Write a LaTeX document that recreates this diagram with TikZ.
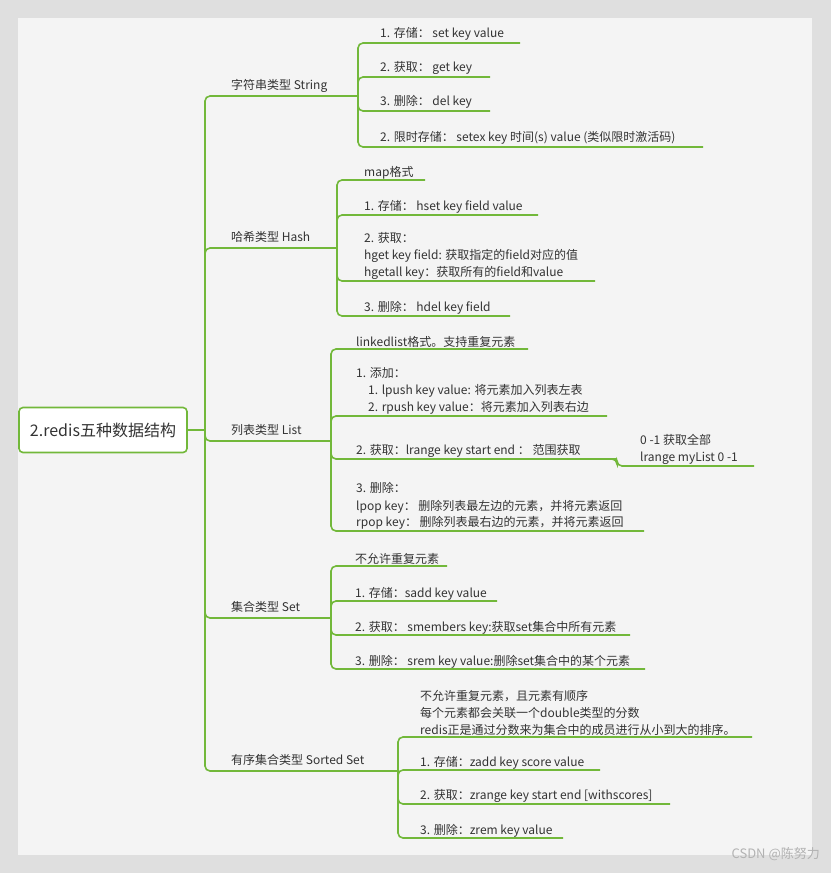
\documentclass[tikz,border=0pt]{standalone}
\usepackage{fontspec}
\setmainfont{Noto Sans CJK SC}
\definecolor{gr}{HTML}{72B83A}
\definecolor{bgc}{HTML}{F4F4F4}
\definecolor{txt}{HTML}{333333}
\begin{document}
\begin{tikzpicture}[x=1pt,y=-1pt,
  br/.style={draw=gr,line width=1.6pt,rounded corners=5pt},
  lbl/.style={anchor=base west,inner sep=0pt,font=\fontsize{12}{17}\selectfont,text=txt,align=left}]
\useasboundingbox (0,0) rectangle (831,873);
\fill[gray!25] (0,0) rectangle (831,873);
\fill[bgc] (18,18) rectangle (812,855);
% root
\node[draw=gr,line width=1.6pt,rounded corners=4pt,fill=white,minimum width=168pt,minimum height=45pt,font=\fontsize{16}{18}\selectfont,text=txt] (root) at (103,430) {2.redis五种数据结构};
\coordinate (hub) at (205,430);
\draw[br] (root.east) -- (hub);
% level 1
\foreach \y/\xe/\t [count=\i] in {96/358/字符串类型 String,248/337/哈希类型 Hash,441/331/列表类型 List,618/331/集合类型 Set,771/398/有序集合类型 Sorted Set}{
  \draw[br] (hub) |- (\xe,\y);
  \node[lbl] (b\i) at (231,\y-7) {\t};
}
% String children
\foreach \y/\xe/\t [count=\i] in {43/520/{1. 存储：  set key value},77/490/{2. 获取：  get key},111/490/{3. 删除：  del key},147/703/{2. 限时存储：  setex key 时间(s) value (类似限时激活码)}}{
  \draw[br] (358,96) |- (\xe,\y);
  \node[lbl] (s\i) at (380,\y-6) {\t};
}
% Hash
\foreach \y/\xe/\t [count=\i] in {180/425/{map格式},215/538/{1. 存储：  hset key field value},281/595/{2. 获取：\\hget key field: 获取指定的field对应的值\\hgetall key：获取所有的field和value},316/510/{3. 删除：  hdel key field}}{
  \draw[br] (337,248) |- (\xe,\y);
  \node[lbl,anchor=south west,yshift=-3pt] (h\i) at (364,\y-4) {\t};
}
% List
\foreach \y/\xe/\t [count=\i] in {349/528/{linkedlist格式。支持重复元素},416/607/{1. 添加：\\\quad 1. lpush key value: 将元素加入列表左表\\\quad 2. rpush key value：将元素加入列表右边},459/617/{2. 获取：lrange key start end ： 范围获取},531/644/{3. 删除：\\lpop key：  删除列表最左边的元素，并将元素返回\\rpop key：  删除列表最右边的元素，并将元素返回}}{
  \draw[br] (331,441) |- (\xe,\y);
  \node[lbl,anchor=south west,yshift=-3pt] (l\i) at (356,\y-4) {\t};
}
\draw[br] (610,459) -- (617,459) |- (754,466);
\node[lbl,anchor=south west,yshift=-3pt] (l5) at (640,462) {0 -1 获取全部\\lrange myList 0 -1};
% Set
\foreach \y/\xe/\t [count=\i] in {566/447/{不允许重复元素},601/497/{1. 存储：sadd key value},635/630/{2. 获取：  smembers key:获取set集合中所有元素},669/645/{3. 删除：  srem key value:删除set集合中的某个元素}}{
  \draw[br] (331,618) |- (\xe,\y);
  \node[lbl,anchor=south west,yshift=-3pt] (t\i) at (355,\y-4) {\t};
}
% Sorted set
\foreach \y/\xe/\t [count=\i] in {737/752/{不允许重复元素，且元素有顺序\\每个元素都会关联一个double类型的分数\\redis正是通过分数来为集合中的成员进行从小到大的排序。},770/600/{1. 存储：zadd key score value},804/670/{2. 获取：zrange key start end [withscores]},838/563/{3. 删除：zrem key value}}{
  \draw[br] (398,771) |- (\xe,\y);
  \node[lbl,anchor=south west,yshift=-3pt] (z\i) at (420,\y-4) {\t};
}
\node[anchor=base east,inner sep=0pt,font=\fontsize{13}{15}\selectfont,text=gray!60] (wm) at (820,858) {CSDN @陈努力};
\end{tikzpicture}
\end{document}
